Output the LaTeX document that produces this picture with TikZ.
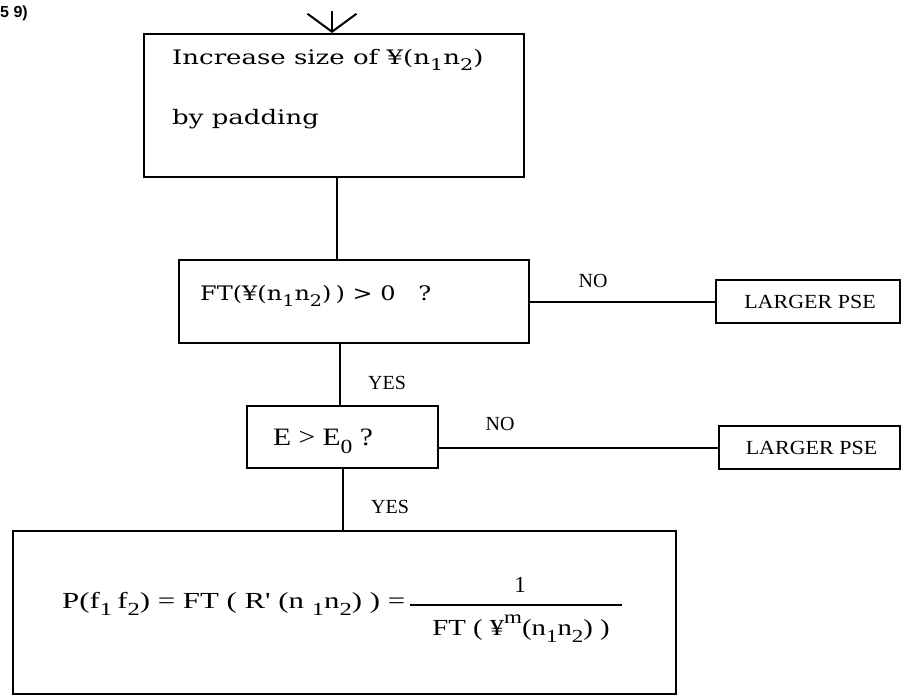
\documentclass[tikz,border=0pt]{standalone}
\usepackage{fontspec}
\usepackage{graphicx}
\setmainfont{Liberation Serif}
\newfontfamily\boxfont{DejaVu Serif}
\newfontfamily\tagfont{Liberation Sans}
\usetikzlibrary{calc,arrows.meta}
% lowered index and raised exponent, as typed on the original sheet
\newcommand\dn[1]{\raisebox{-0.32em}{\scalebox{0.8}{#1}}}
\newcommand\up[1]{\raisebox{0.5em}{\scalebox{0.8}{#1}}}
% the typewriter face is broader than the fonts at hand
\newcommand\wide[2]{\scalebox{#1}[1]{#2}}
\begin{document}
\begin{tikzpicture}[x=1pt,y=-1pt,
  frame/.style={draw, line width=2pt, anchor=north west, inner sep=0pt},
  wire/.style={line width=2pt},
  bigtxt/.style={font=\boxfont\fontsize{20}{24}\selectfont, inner sep=0pt, anchor=base west},
  eqtxt/.style={font=\fontsize{23}{27}\selectfont, inner sep=0pt},
  lbl/.style={font=\fontsize{20}{24}\selectfont, inner sep=0pt},
]
\useasboundingbox (0,0) rectangle (902,696);

% figure number, cut at the sheet edge
\node[font=\tagfont\bfseries\fontsize{16}{18}\selectfont, anchor=base east, inner sep=0pt] (figno) at (28,17) {(5 9)};

% boxes
\node[frame, minimum width=380pt, minimum height=143pt] (pad) at (143,33) {};
\node[frame, minimum width=350pt, minimum height=83pt]  (ftq) at (178,259) {};
\node[frame, minimum width=184pt, minimum height=43pt]  (big1) at (715,279) {};
\node[frame, minimum width=191pt, minimum height=62pt]  (eq) at (246,405) {};
\node[frame, minimum width=181pt, minimum height=43pt]  (big2) at (718,425) {};
\node[frame, minimum width=663pt, minimum height=163pt] (res) at (12,530) {};

% box texts
\node[bigtxt] (padA) at (172,64) {\wide{1.3}{Increase size of ¥(n\dn{1}n\dn{2})}};
\node[bigtxt] (padB) at (172,124) {\wide{1.3}{by padding}};
\node[bigtxt] (ftqT) at (200,300) {\wide{1.2}{FT(¥(n\dn{1}n\dn{2})\,) > 0~~~?}};
\node[lbl, anchor=center] (big1T) at ($(big1.center)+(2,0)$) {\wide{1.1}{LARGER PSE}};
\node[lbl, anchor=center] (big2T) at ($(big2.center)+(2,0)$) {\wide{1.1}{LARGER PSE}};
\node[eqtxt, anchor=base west, font=\fontsize{25}{29}\selectfont] (eqT) at (273,445) {\wide{1.18}{E > E\dn{0} ?}};

% result formula
\node[eqtxt, anchor=base west] (lhs) at (62,608)
  {\wide{1.34}{P(f\dn{1}\,f\dn{2}) = FT ( R\textquotesingle\ (n \dn{1}n\dn{2}) ) =}};
\node[eqtxt, anchor=base] (num) at (520,592) {1};
\node[eqtxt, anchor=base] (den) at (521,635) {\wide{1.25}{FT ( ¥\up{m}(n\dn{1}n\dn{2}) )}};
\coordinate (barL) at (410,605);
\coordinate (barR) at (622,605);
\draw[line width=1.6pt] (barL) -- (barR);

% branch labels
\node[lbl] (no1) at (593,281) {NO};
\node[lbl] (no2) at (500,424) {NO};
\node[lbl] (yes1) at (387,383) {YES};
\node[lbl] (yes2) at (390,507) {YES};

% connectors
\coordinate (feed) at (332,11);
\coordinate (x1) at (337,0);
\coordinate (x2) at (340,0);
\coordinate (x3) at (343,0);
\draw[wire, -{Straight Barb[length=18pt, width=49pt, line width=2pt]}] (feed) -- (pad.north -| feed);
\draw[wire] (pad.south -| x1) -- (ftq.north -| x1);
\draw[wire] (ftq.east) -- (ftq.east -| big1.west);
\draw[wire] (ftq.south -| x2) -- (eq.north -| x2);
\draw[wire] (big2.west -| eq.east) -- (big2.west);
\draw[wire] (eq.south -| x3) -- (res.north -| x3);
\end{tikzpicture}
\end{document}
